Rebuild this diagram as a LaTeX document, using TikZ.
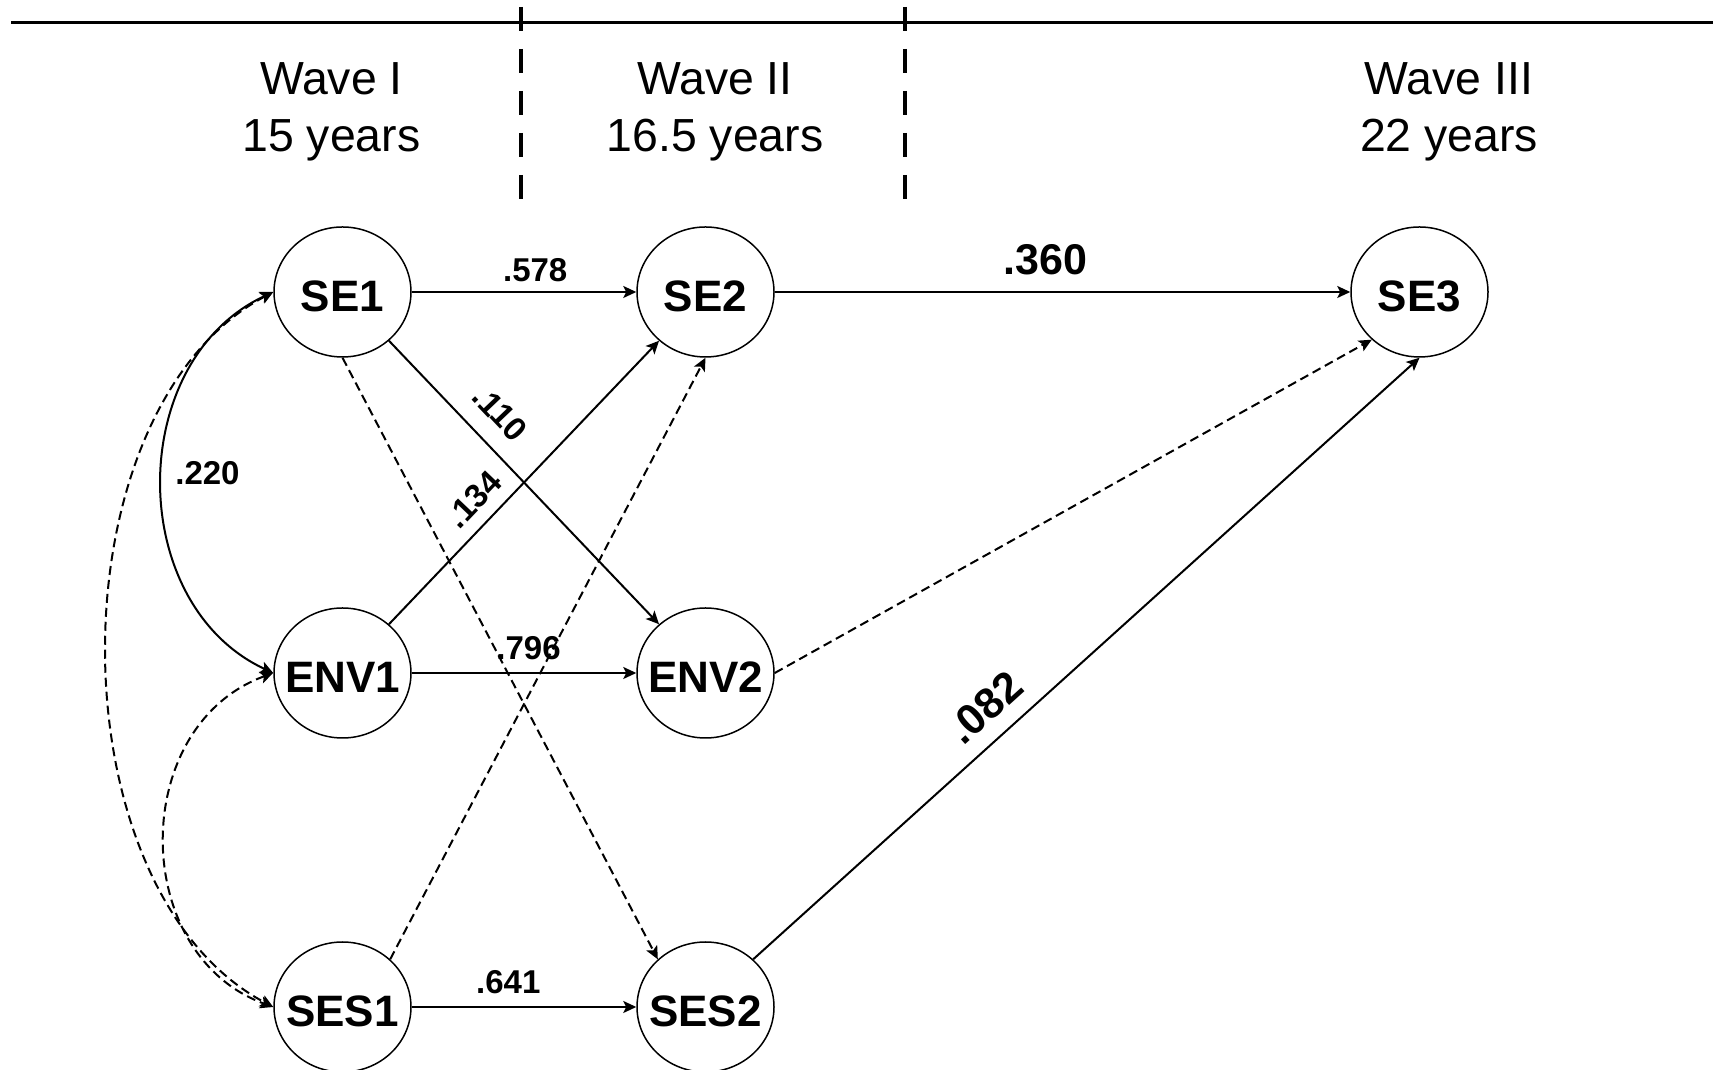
\documentclass[tikz,border=0pt]{standalone}
\usepackage{fontspec}
\setmainfont{Liberation Sans}
\usetikzlibrary{arrows.meta,positioning,shapes.geometric}

\begin{document}
\begin{tikzpicture}[->,>={Stealth[length=6.5pt,width=6pt,inset=1.5pt]},line width=1pt,x=1pt,y=1pt,on grid,node distance=181.5pt,
    main node/.style={ellipse,draw,line width=0.75pt,minimum width=68.5pt,minimum height=65pt,inner xsep=-6pt,inner ysep=0pt,font=\fontsize{22}{22}\selectfont\bfseries,text height=20pt,text depth=0pt},
    wave/.style={align=center,font=\fontsize{23.2}{28.3}\selectfont},
    coef/.style={font=\fontsize{16.5}{16.5}\selectfont\bfseries,inner sep=6pt},
    big coef/.style={font=\fontsize{21.5}{21.5}\selectfont\bfseries,inner sep=7.8pt},
    weak/.style={dash pattern=on 4.5pt off 2.5pt}]
    \useasboundingbox (0,0) rectangle (856.5,535);

    % time axis and waves
    \draw[-,line width=1.6pt] (5.5,523.65) -- (856.5,523.65);
    \draw[-,line width=1.8pt,dash pattern=on 12pt off 9pt] (260.5,531.5) -- (260.5,435.5);
    \draw[-,line width=1.8pt,dash pattern=on 12pt off 9pt] (452.5,531.5) -- (452.5,435.5);

    \node[wave] (w1) at (165.7,479.2) {Wave I\\15 years};
    \node[wave] (w2) at (357.5,479.2) {Wave II\\16.5 years};
    \node[wave] (w3) at (724.5,479.2) {Wave III\\22 years};

    % variables
    \node[main node] (SE1) at (171.25,389) {SE1};
    \node[main node] (SE2) [right=of SE1] {SE2};
    \node[main node] (SE3) [right=357pt of SE2] {SE3};

    \node[main node] (ENV1) [below=190.5pt of SE1] {ENV1};
    \node[main node] (ENV2) [right=of ENV1] {ENV2};

    \node[main node] (SES1) [below=167pt of ENV1] {SES1};
    \node[main node] (SES2) [right=of SES1] {SES2};

    \path
        (SE1) edge node[coef,above,pos=0.55,inner sep=4.6pt] {.578} (SE2)
        (SE2) edge node[big coef,above,pos=0.47] {.360} (SE3)
        (SE1) edge node[coef,above,sloped,pos=0.33,inner sep=9pt] {.110} (ENV2)
        (ENV1) edge node[coef,above,sloped,pos=0.38] {.134} (SE2)
        (ENV1) edge node[coef,above,pos=0.52] {.796} (ENV2)
        (SES1) edge node[coef,above,pos=0.43] {.641} (SES2)
        (SES2.45) edge node[big coef,above,sloped,pos=0.38] {.082} (SE3.south)
        (SE1.south) edge[weak] (SES2.135)
        (SES1.45) edge[weak] (SE2.south)
        (ENV2.east) edge[weak] (SE3.225)
        ;

    % correlations
    \path
        (SE1.west) edge[<->,out=205,in=155,looseness=1.1] node[coef,right,pos=0.48] {.220} (ENV1.west)
        (ENV1.west) edge[<->,weak,out=200,in=160,looseness=1.18] (SES1.west)
        (SE1.west) edge[<->,weak,out=208,in=152,looseness=0.9] (SES1.west)
        ;
\end{tikzpicture}
\end{document}
